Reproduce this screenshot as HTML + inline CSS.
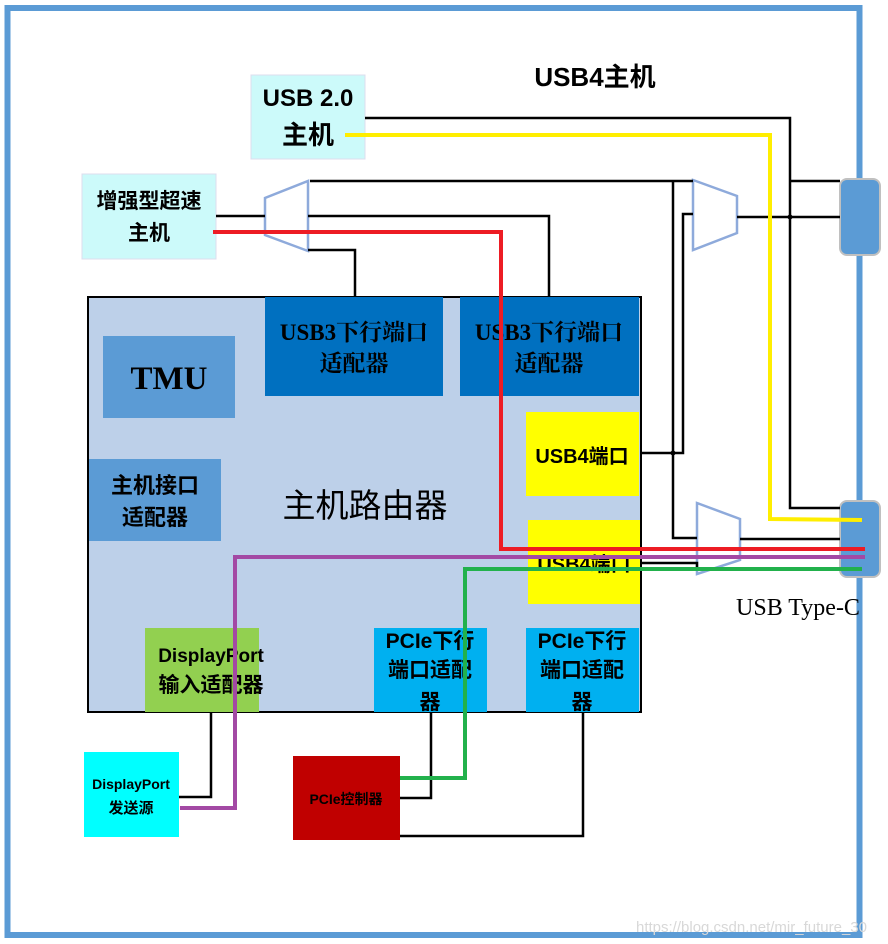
<!DOCTYPE html>
<html><head><meta charset="utf-8"><style>
html,body{margin:0;padding:0;background:#fff;}
svg{display:block;}
text{font-family:"Liberation Sans","Noto Sans CJK SC",sans-serif;font-weight:bold;fill:#000;}
.s{font-family:"Liberation Serif","Noto Serif CJK SC",serif;}
</style></head><body>
<svg width="888" height="944" viewBox="0 0 888 944" xmlns="http://www.w3.org/2000/svg">
<rect x="7.5" y="8" width="852" height="927" fill="none" stroke="#5b9bd5" stroke-width="6"/>
<text x="595" y="86" font-size="26" text-anchor="middle">USB4主机</text>

<rect x="88" y="297" width="553" height="415" fill="#bdd0e9" stroke="#000" stroke-width="2"/>
<rect x="103" y="336" width="132" height="82" fill="#5b9bd5"/>
<text class="s" x="169" y="389" font-size="33" text-anchor="middle">TMU</text>
<rect x="265" y="297" width="178" height="99" fill="#0070c0"/>
<text class="s" x="354" y="340" font-size="23" text-anchor="middle">USB3下行端口</text>
<text class="s" x="354" y="371" font-size="23" text-anchor="middle">适配器</text>
<rect x="460" y="297" width="179" height="99" fill="#0070c0"/>
<text class="s" x="549" y="340" font-size="23" text-anchor="middle">USB3下行端口</text>
<text class="s" x="549" y="371" font-size="23" text-anchor="middle">适配器</text>
<rect x="89" y="459" width="132" height="82" fill="#5b9bd5"/>
<text x="155" y="493" font-size="22" text-anchor="middle">主机接口</text>
<text x="155" y="525" font-size="22" text-anchor="middle">适配器</text>
<text x="365" y="517" font-size="33" text-anchor="middle" style="font-weight:normal">主机路由器</text>
<rect x="526" y="412" width="113" height="84" fill="#ffff00"/>
<text x="582" y="463" font-size="20" text-anchor="middle">USB4端口</text>
<rect x="528" y="520" width="112" height="84" fill="#ffff00"/>
<text x="584" y="571" font-size="20" text-anchor="middle">USB4端口</text>
<rect x="145" y="628" width="114" height="84" fill="#92d050"/>
<text x="211" y="662" font-size="19" text-anchor="middle">DisplayPort</text>
<text x="211" y="692" font-size="21" text-anchor="middle">输入适配器</text>
<rect x="374" y="628" width="113" height="84" fill="#00b0f0"/>
<text x="430" y="648" font-size="21" text-anchor="middle">PCIe下行</text>
<text x="430" y="677" font-size="21" text-anchor="middle">端口适配</text>
<text x="430" y="709" font-size="21" text-anchor="middle">器</text>
<rect x="526" y="628" width="113" height="84" fill="#00b0f0"/>
<text x="582" y="648" font-size="21" text-anchor="middle">PCIe下行</text>
<text x="582" y="677" font-size="21" text-anchor="middle">端口适配</text>
<text x="582" y="709" font-size="21" text-anchor="middle">器</text>
<line x1="641" y1="297" x2="641" y2="712" stroke="#000" stroke-width="2"/>

<rect x="251" y="75" width="114" height="84" fill="#ccfafa" stroke="#dde" stroke-width="1"/>
<text x="308" y="106" font-size="24" text-anchor="middle">USB 2.0</text>
<text x="308" y="144" font-size="26" text-anchor="middle">主机</text>
<rect x="82" y="174" width="134" height="85" fill="#ccfafa" stroke="#dde" stroke-width="1"/>
<text x="149" y="208" font-size="21" text-anchor="middle">增强型超速</text>
<text x="149" y="240" font-size="21" text-anchor="middle">主机</text>

<rect x="84" y="752" width="95" height="85" fill="#00ffff"/>
<text x="131" y="789" font-size="14" text-anchor="middle">DisplayPort</text>
<text x="131" y="813" font-size="15" text-anchor="middle">发送源</text>
<rect x="293" y="756" width="107" height="84" fill="#c00000"/>
<text x="346" y="804" font-size="14" text-anchor="middle">PCIe控制器</text>

<rect x="840" y="179" width="40" height="76" rx="7" fill="#5b9bd5" stroke="#c0c0c0" stroke-width="2"/>
<rect x="840" y="501" width="40" height="76" rx="7" fill="#5b9bd5" stroke="#c0c0c0" stroke-width="2"/>
<text class="s" x="798" y="615" font-size="24" text-anchor="middle" style="font-weight:normal">USB Type-C</text>

<polygon points="308,181 308,251 265,235 265,198" fill="#fff" stroke="#8eaadb" stroke-width="2.5"/>
<polygon points="693,180 693,250 737,233 737,196" fill="#fff" stroke="#8eaadb" stroke-width="2.5"/>
<polygon points="697,503 697,574 740,560 740,519" fill="none" stroke="#8eaadb" stroke-width="2.5"/>

<g fill="none" stroke="#000" stroke-width="2.5">
<polyline points="365,118 790,118 790,508 840,508"/>
<line x1="790" y1="181" x2="840" y2="181"/>
<line x1="737" y1="217" x2="840" y2="217"/>
<line x1="216" y1="216" x2="265" y2="216"/>
<line x1="310" y1="181" x2="693" y2="181"/>
<polyline points="308,216 549,216 549,297"/>
<polyline points="308,250 355,250 355,297"/>
<polyline points="673,181 673,538 697,538"/>
<polyline points="693,214 683,214 683,453 640,453"/>
<line x1="740" y1="539" x2="840" y2="539"/>
<polyline points="640,563 697,563 697,570"/>
<polyline points="179,797 211,797 211,712"/>
<polyline points="400,798 431,798 431,712"/>
<polyline points="400,836 583,836 583,712"/>
</g>
<circle cx="673" cy="453" r="2.5"/><circle cx="790" cy="217" r="2.5"/>

<polyline points="345,135 770,135 770,519 862,520" fill="none" stroke="#ffee00" stroke-width="4"/>
<polyline points="213,232 501,232 501,549 865,549" fill="none" stroke="#ed1c24" stroke-width="4"/>
<polyline points="180,808 235,808 235,557 865,557" fill="none" stroke="#a349a4" stroke-width="4"/>
<polyline points="400,778 465,778 465,569 862,569" fill="none" stroke="#22b14c" stroke-width="4"/>

<text x="636" y="932" font-size="15" style="font-weight:normal;fill:#d8d8d8">https://blog.csdn.net/mir_future_30</text>
</svg>
</body></html>
